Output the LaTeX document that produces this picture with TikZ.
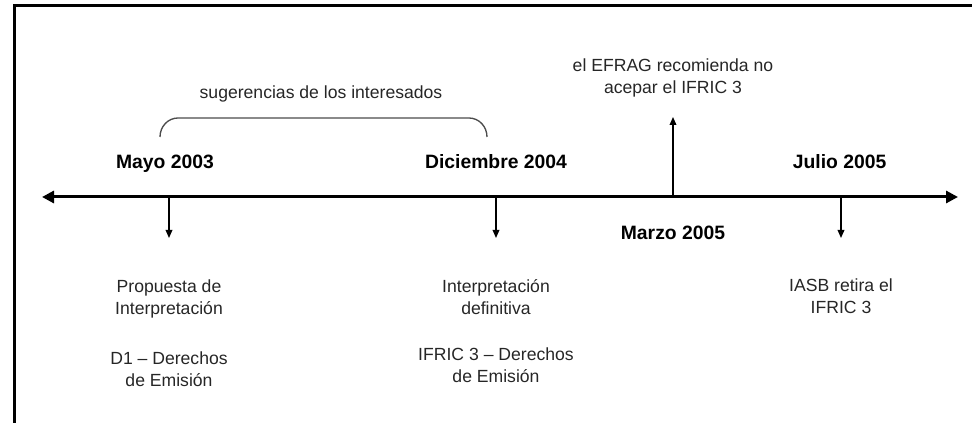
\documentclass[tikz,border=0pt]{standalone}
\usepackage{fontspec}
\setmainfont{Liberation Sans}
\usetikzlibrary{arrows.meta}
\usetikzlibrary{positioning}

\begin{document}
\begin{tikzpicture}[x=0.75pt,y=-0.75pt,node distance=20pt]
 \tikzstyle{fecha}=[font=\fontsize{14.5}{17}\selectfont\bfseries, inner sep=0pt, text height=10.5pt, text depth=0pt]
 \tikzstyle{texto}=[font=\fontsize{13.2}{16.5}\selectfont, align=center, inner sep=0pt, text=black!85]
 \tikzstyle{eje}=[line width=2.25pt, {Triangle[length=9pt,width=9pt]}-{Triangle[length=9pt,width=9pt]}]
 \tikzstyle{flecha}=[line width=1pt, -{Triangle[length=6pt,width=5pt]}]
 \useasboundingbox (0,0) rectangle (972,423);
 % marco
 \draw[line width=2.25pt] (14,423) -- (14,6) -- (972,6);
 % eje del tiempo
 \coordinate (oeste) at (42,197);
 \coordinate (este)  at (958,197);
 \coordinate (ma) at (169,197);
 \coordinate (di) at (496,197);
 \coordinate (mz) at (673,197);
 \coordinate (ju) at (841,197);
 \coordinate (pma) at (169,238);
 \coordinate (pdi) at (496,238);
 \coordinate (pju) at (841,238);
 \coordinate (pmz) at (673,117);
 \draw[eje] (oeste) -- (este);
 \node[fecha] (mayo)  [above=21pt of ma, xshift=-3pt] {Mayo 2003};
 \node[fecha] (dic)   [above=21pt of di] {Diciembre 2004};
 \node[fecha] (julio) [above=21pt of ju, xshift=-1pt] {Julio 2005};
 \node[fecha] (marzo) [below=21pt of mz] {Marzo 2005};
 \draw[flecha] (ma) -- (pma);
 \draw[flecha] (di) -- (pdi);
 \draw[flecha] (ju) -- (pju);
 \draw[flecha] (mz) -- (pmz);
 \node[texto] (prop) [below=31pt of pma] {Propuesta de\\Interpretación};
 \node[texto] (dUno) [below=25pt of prop] {D1 -- Derechos\\de Emisión};
 \node[texto] (interp) [below=31pt of pdi] {Interpretación\\definitiva};
 \node[texto] (ifric) [below=24pt of interp] {IFRIC 3 -- Derechos\\de Emisión};
 \node[texto] (iasb) [below=30pt of pju] {IASB retira el\\IFRIC 3};
 \node[texto] (efrag) [above=15pt of pmz] {el EFRAG recomienda no\\acepar el IFRIC 3};
 % llave de las sugerencias
 \coordinate (bA) at (160,137);
 \coordinate (bB) at (487,137);
 \coordinate (bM) at (321,118);
 \draw[black!70, line width=1pt] (bA) to[out=90,in=180] (178,118) -- (469,118) to[out=0,in=90] (bB);
 \node[texto] (sug) [above=12pt of bM] {sugerencias de los interesados};
\end{tikzpicture}
\end{document}
